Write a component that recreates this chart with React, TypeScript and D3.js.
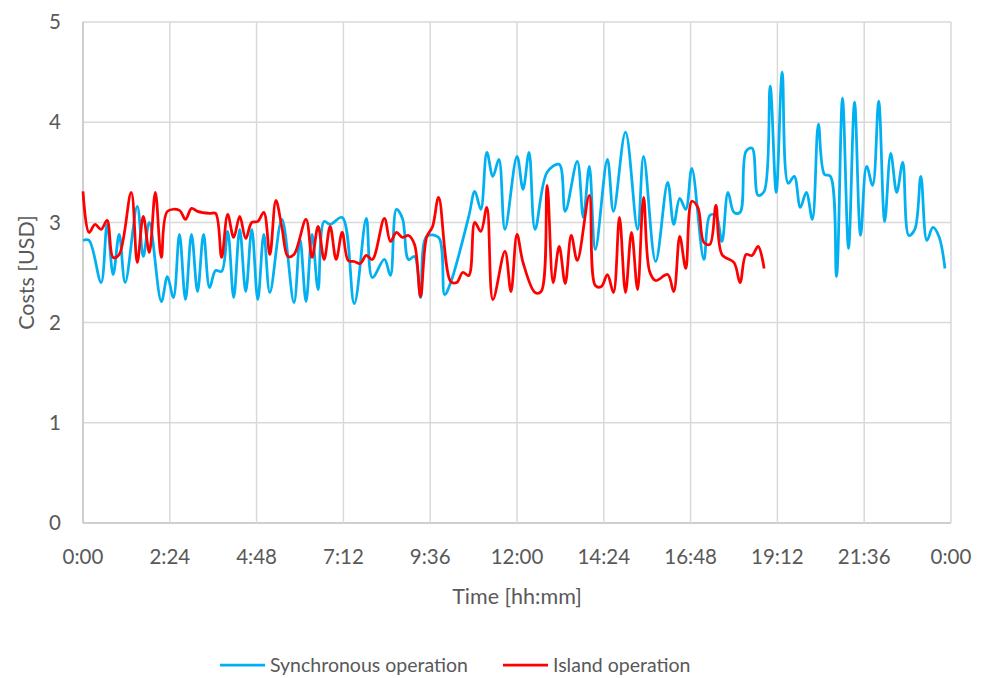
import * as d3 from "d3";
import { useEffect, useRef } from "react";

// time of day in minutes, costs in USD
const syncMinutes = [
  0, 10, 30, 40, 50, 60, 70, 90, 100, 110, 130, 140, 150, 160, 170, 180, 190, 200, 210, 220,
  230, 240, 250, 260, 270, 280, 290, 300, 310, 330, 350, 360, 370, 380, 390, 400, 410, 430, 450, 470,
  480, 500, 510, 520, 530, 540, 550, 560, 570, 590, 600, 610, 640, 650, 660, 670, 680, 690, 700, 720,
  730, 740, 750, 770, 790, 800, 820, 830, 840, 850, 870, 880, 900, 920, 930, 950, 970, 980, 990, 1000,
  1010, 1030, 1040, 1050, 1060, 1070, 1080, 1090, 1100, 1110, 1120, 1130, 1140, 1150, 1160, 1170, 1180, 1190, 1200, 1210,
  1220, 1230, 1240, 1250, 1260, 1270, 1280, 1290, 1300, 1310, 1320, 1330, 1340, 1350, 1360, 1370, 1380, 1390, 1400, 1410,
  1420, 1430,
];
const syncCosts = [
  2.82, 2.82, 2.4, 2.98, 2.48, 2.88, 2.4, 3.16, 2.66, 3.0, 2.21, 2.46, 2.25, 2.88, 2.23, 2.88, 2.31, 2.88, 2.35, 2.52,
  2.51, 2.91, 2.25, 2.93, 2.31, 2.93, 2.23, 2.88, 2.3, 3.03, 2.2, 2.83, 2.21, 2.88, 2.33, 3.01, 2.98, 3.05, 2.19, 3.04,
  2.45, 2.63, 2.47, 3.13, 3.04, 2.63, 2.66, 2.25, 2.86, 2.85, 2.28, 2.4, 3.06, 3.31, 3.13, 3.7, 3.46, 3.63, 2.93, 3.66,
  3.33, 3.7, 2.93, 3.5, 3.58, 3.11, 3.61, 3.05, 3.56, 2.73, 3.63, 3.11, 3.9, 2.93, 3.66, 2.61, 3.4, 2.98, 3.24, 3.13,
  3.54, 2.63, 3.07, 3.07, 2.81, 3.3, 3.1, 3.1, 3.71, 3.74, 3.27, 3.31, 4.36, 3.3, 4.5, 3.39, 3.46, 3.15, 3.3, 3.03,
  3.98, 3.48, 3.46, 2.46, 4.24, 2.74, 4.2, 2.87, 3.56, 3.37, 4.21, 3.01, 3.69, 3.3, 3.6, 2.87, 2.93, 3.46, 2.82, 2.95,
  2.86, 2.54,
];

const islandMinutes = [
  0, 10, 20, 30, 40, 50, 60, 80, 90, 100, 110, 120, 130, 140, 160, 170, 180, 190, 210, 220,
  230, 240, 250, 260, 270, 280, 290, 300, 310, 320, 330, 340, 350, 370, 380, 390, 400, 410, 420, 430,
  440, 450, 460, 470, 480, 500, 510, 520, 530, 540, 550, 560, 570, 580, 590, 610, 620, 630, 640, 650,
  660, 670, 680, 700, 710, 720, 730, 750, 760, 770, 780, 790, 800, 810, 820, 840, 850, 860, 870, 880,
  890, 900, 910, 920, 930, 940, 950, 970, 980, 990, 1000, 1010, 1020, 1030, 1040, 1050, 1060, 1080, 1090, 1100,
  1110, 1120, 1130,
];
const islandCosts = [
  3.31, 2.9, 2.98, 2.93, 3.02, 2.65, 2.68, 3.3, 2.6, 3.06, 2.7, 3.3, 2.65, 3.11, 3.12, 3.03, 3.14, 3.11, 3.09, 3.09,
  2.65, 3.08, 2.85, 3.06, 2.84, 3.0, 3.01, 3.1, 2.68, 3.22, 2.95, 2.66, 2.68, 3.03, 2.65, 2.96, 2.63, 2.96, 2.63, 2.9,
  2.62, 2.61, 2.59, 2.67, 2.63, 3.04, 2.81, 2.9, 2.85, 2.87, 2.78, 2.26, 2.85, 2.96, 3.25, 2.41, 2.4, 2.5, 2.47, 3.0,
  2.91, 3.15, 2.23, 2.71, 2.31, 2.88, 2.6, 2.3, 2.31, 3.37, 2.4, 2.76, 2.39, 2.87, 2.62, 3.27, 2.37, 2.36, 2.48, 2.3,
  3.05, 2.3, 2.9, 2.33, 3.25, 2.51, 2.42, 2.48, 2.31, 2.86, 2.54, 3.21, 3.15, 2.8, 2.78, 3.17, 2.68, 2.6, 2.4, 2.68,
  2.67, 2.76, 2.54,
];

const xTicks = [0, 144, 288, 432, 576, 720, 864, 1008, 1152, 1296, 1440];
const yTicks = [0, 1, 2, 3, 4, 5];

export default function App() {
  const width = 989;
  const height = 678;
  const marginTop = 22;
  const marginRight = 38;
  const marginBottom = 155;
  const marginLeft = 83;

  const svgRef = useRef<SVGSVGElement>(null);

  useEffect(() => {
    document.body.style.margin = "0";
    const svgEl = d3.select(svgRef.current);
    svgEl.selectAll("*").remove();

    const font = "Lato, 'Open Sans', sans-serif";
    const textColor = "#595959";

    const xScale = d3.scaleLinear([0, 1440], [marginLeft, width - marginRight]);
    const yScale = d3.scaleLinear([0, 5], [height - marginBottom, marginTop]);

    const fmtTime = (m: number) => `${Math.floor(m / 60) % 24}:${String(Math.round(m % 60)).padStart(2, "0")}`;

    // gridlines
    svgEl.append("g")
      .selectAll("line")
      .data(yTicks)
      .join("line")
      .attr("x1", xScale(0))
      .attr("x2", xScale(1440))
      .attr("y1", d => yScale(d))
      .attr("y2", d => yScale(d))
      .attr("stroke", d => (d === 0 ? "#bfbfbf" : "#d9d9d9"))
      .attr("stroke-width", 1.5);

    svgEl.append("g")
      .selectAll("line")
      .data(xTicks)
      .join("line")
      .attr("x1", d => xScale(d))
      .attr("x2", d => xScale(d))
      .attr("y1", yScale(0))
      .attr("y2", yScale(5))
      .attr("stroke", d => (d === 0 ? "#bfbfbf" : "#d9d9d9"))
      .attr("stroke-width", 1.5);

    // tick labels
    const tickG = svgEl.append("g")
      .attr("font-family", font)
      .attr("font-size", 20.5)
      .attr("fill", textColor);

    tickG.append("g")
      .selectAll("text")
      .data(yTicks)
      .join("text")
      .attr("x", marginLeft - 22)
      .attr("y", d => yScale(d))
      .attr("dy", "0.35em")
      .attr("text-anchor", "end")
      .text(d => d);

    tickG.append("g")
      .selectAll("text")
      .data(xTicks)
      .join("text")
      .attr("x", d => xScale(d))
      .attr("y", yScale(0) + 41)
      .attr("text-anchor", "middle")
      .text(d => fmtTime(d));

    // axis titles
    const titleG = svgEl.append("g")
      .attr("font-family", font)
      .attr("font-size", 21.5)
      .attr("fill", textColor);

    titleG.append("text")
      .attr("x", (xScale(0) + xScale(1440)) / 2)
      .attr("y", yScale(0) + 81)
      .attr("text-anchor", "middle")
      .text("Time [hh:mm]");

    titleG.append("text")
      .attr("transform", `translate(34, ${(yScale(0) + yScale(5)) / 2}) rotate(-90)`)
      .attr("text-anchor", "middle")
      .text("Costs [USD]");

    // series
    const series = [
      { name: "Synchronous operation", color: "#00b0f0", xs: syncMinutes, ys: syncCosts, legendX: 220 },
      { name: "Island operation", color: "#ff0000", xs: islandMinutes, ys: islandCosts, legendX: 503 },
    ];

    const line = d3.line<[number, number]>(d => xScale(d[0]), d => yScale(d[1]))
      .curve(d3.curveCatmullRom.alpha(0.5));

    series.forEach(s => {
      const pts: [number, number][] = s.xs.map((m, i) => [m, s.ys[i]]);
      svgEl.append("path")
        .attr("fill", "none")
        .attr("stroke", s.color)
        .attr("stroke-width", 2.75)
        .attr("stroke-linejoin", "round")
        .attr("d", line(pts));
    });

    // legend
    const legendY = 665;
    series.forEach(s => {
      svgEl.append("line")
        .attr("x1", s.legendX)
        .attr("x2", s.legendX + 45)
        .attr("y1", legendY)
        .attr("y2", legendY)
        .attr("stroke", s.color)
        .attr("stroke-width", 2.75);
      svgEl.append("text")
        .attr("x", s.legendX + 50)
        .attr("y", legendY)
        .attr("dy", "0.35em")
        .attr("font-family", font)
        .attr("font-size", 19.5)
        .attr("fill", textColor)
        .text(s.name);
    });
  }, []);

  return (
    <svg
      ref={svgRef}
      width={width}
      height={height}
      style={{ display: "block", background: "#fff" }}
      xmlns="http://www.w3.org/2000/svg"
    >
    </svg>
  );
}
